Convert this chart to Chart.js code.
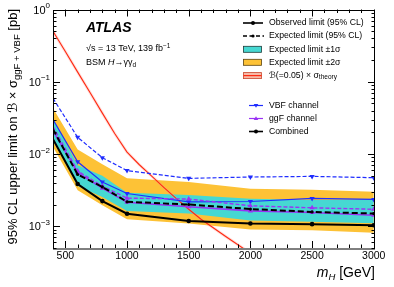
<!DOCTYPE html>
<html>
<head>
<meta charset="utf-8">
<script src="https://cdn.jsdelivr.net/npm/chart.js@4.4.1/dist/chart.umd.min.js"></script>
<style>
  html, body { margin: 0; padding: 0; background: #fff; }
</style>
</head>
<body>
<canvas id="limits" width="394" height="287"></canvas>
<script>
// mass points of the limit scan [GeV]
const masses = [400, 600, 800, 1000, 1500, 2000, 2500, 3000];

// combined limits [pb]
const observed = [0.016, 0.00385, 0.00223, 0.00149, 0.00118, 0.00109, 0.00107, 0.00103];
const expected = [0.022, 0.0052, 0.0035, 0.00218, 0.0020, 0.00173, 0.00158, 0.0015];
const oneSigUp = [0.031, 0.0070, 0.0050, 0.0029, 0.0027, 0.0024, 0.0023, 0.00235];
const oneSigDown = [0.0155, 0.0036, 0.00255, 0.00162, 0.0015, 0.0012, 0.00115, 0.0011];
const twoSigUp = [0.043, 0.0115, 0.0072, 0.0046, 0.0041, 0.0033, 0.0032, 0.0030];
const twoSigDown = [0.0125, 0.00315, 0.00196, 0.00125, 0.00109, 0.0009, 0.00088, 0.00081];

// single channels [pb]
const vbfObserved = [0.030, 0.0078, 0.0041, 0.00284, 0.00218, 0.0022, 0.00243, 0.00235];
const vbfExpected = [0.059, 0.017, 0.0089, 0.0059, 0.0046, 0.0048, 0.0049, 0.0047];
const ggfObserved = [0.021, 0.0055, 0.00337, 0.00215, 0.00186, 0.00163, 0.00155, 0.00142];
const ggfExpected = [0.024, 0.0058, 0.0036, 0.00245, 0.00238, 0.00192, 0.0018, 0.00172];

// B(=0.05) x sigma_theory
const theoryMasses = [400, 500, 600, 700, 800, 900, 1000, 1100, 1200, 1300, 1400, 1500, 1600, 1800, 2000, 2200];
const theoryXsec = [0.50, 0.262, 0.136, 0.0709, 0.0368, 0.0192, 0.0106, 0.0071, 0.00494, 0.00343,
                    0.00241, 0.00172, 0.00125, 0.00072, 0.000424, 0.00026];

const xTickVals = [500, 1000, 1500, 2000, 2500, 3000];
const yTickVals = [0.001, 0.01, 0.1, 1];

const FONT = '"Liberation Sans", Arial, "DejaVu Sans", sans-serif';
const SCRIPT = '"DejaVu Sans", sans-serif';
const YELLOW = '#fdc236';
const CYAN = '#46d8d2';
const BLUE = '#1f2dff';
const PURPLE = '#9a32f5';
const RED = '#ff2a12';

const pts = (xs, ys) => xs.map((x, i) => ({ x, y: ys[i] }));
const edgeHidden = r => ctx => (ctx.raw && ctx.raw.x <= 400 ? 0 : r);

// draw a row of text pieces (font / vertical shift per piece)
function drawRuns(ctx, x, y, runs, align) {
  let total = 0;
  runs.forEach(r => { ctx.font = r.font; total += ctx.measureText(r.t).width; });
  let cx = align === 'right' ? x - total : x;
  ctx.textAlign = 'left';
  runs.forEach(r => {
    ctx.font = r.font;
    ctx.fillText(r.t, cx, y + (r.dy || 0));
    cx += ctx.measureText(r.t).width;
  });
  return total;
}

function triangle(ctx, x, y, s, down) {
  ctx.beginPath();
  if (down) {
    ctx.moveTo(x - s, y - s * 0.6); ctx.lineTo(x + s, y - s * 0.6); ctx.lineTo(x, y + s);
  } else {
    ctx.moveTo(x - s, y + s * 0.6); ctx.lineTo(x + s, y + s * 0.6); ctx.lineTo(x, y - s);
  }
  ctx.closePath();
  ctx.fill();
}

const decorations = {
  id: 'decorations',
  afterDraw(chart) {
    const { ctx, chartArea: a, scales } = chart;
    const xs = scales.x, ys = scales.y;
    ctx.save();
    ctx.fillStyle = '#000';
    ctx.strokeStyle = '#000';
    ctx.lineWidth = 1;

    // frame
    ctx.strokeRect(Math.round(a.left) + 0.5, Math.round(a.top) + 0.5,
      Math.round(a.right - a.left) - 1, Math.round(a.bottom - a.top) - 0.5);

    // inward ticks, x
    ctx.beginPath();
    for (let m = 500; m < 3010; m += 100) {
      const px = Math.round(xs.getPixelForValue(m)) + 0.5;
      const len = m % 500 === 0 ? 7 : 3.5;
      ctx.moveTo(px, a.bottom); ctx.lineTo(px, a.bottom - len);
      ctx.moveTo(px, a.top); ctx.lineTo(px, a.top + len);
    }
    // inward ticks, y (log)
    for (let e = -4; e <= 0; e++) {
      for (let k = 1; k <= 9; k++) {
        const v = k * Math.pow(10, e);
        if (v < 5e-4 || v > 1) continue;
        const py = Math.round(ys.getPixelForValue(v)) + 0.5;
        const len = k === 1 ? 7 : 3.5;
        ctx.moveTo(a.left, py); ctx.lineTo(a.left + len, py);
        ctx.moveTo(a.right, py); ctx.lineTo(a.right - len, py);
      }
    }
    ctx.stroke();

    // y tick labels 10^n
    ctx.textBaseline = 'alphabetic';
    yTickVals.forEach(v => {
      const py = ys.getPixelForValue(v);
      const n = Math.round(Math.log10(v));
      const sup = n < 0 ? '\u2212' + (-n) : String(n);
      drawRuns(ctx, 50, py + 4, [
        { t: '10', font: '11px ' + FONT },
        { t: sup, font: '8px ' + FONT, dy: -5.5 }
      ], 'right');
    });

    // x title
    drawRuns(ctx, a.right, 277, [
      { t: 'm', font: 'italic 14px ' + FONT },
      { t: 'H', font: 'italic 9.5px ' + FONT, dy: 3 },
      { t: ' [GeV]', font: '14px ' + FONT }
    ], 'right');

    // y title (rotated, ends at the top of the axis)
    ctx.save();
    ctx.translate(17, 9);
    ctx.rotate(-Math.PI / 2);
    drawRuns(ctx, 0, 0, [
      { t: '95% CL upper limit on ', font: '13px ' + FONT },
      { t: '\u212C', font: '13px ' + SCRIPT },
      { t: ' \u00D7 \u03C3', font: '13px ' + FONT },
      { t: 'ggF + VBF', font: '9.5px ' + FONT, dy: 3 },
      { t: ' [pb]', font: '13px ' + FONT }
    ], 'right');
    ctx.restore();

    // ATLAS label
    ctx.font = 'italic bold 14px ' + FONT;
    ctx.fillText('ATLAS', 86, 32);
    drawRuns(ctx, 86, 51, [
      { t: '\u221As = 13 TeV, 139 fb', font: '9px ' + FONT },
      { t: '\u22121', font: '6.5px ' + FONT, dy: -3.5 }
    ], 'left');
    drawRuns(ctx, 86, 65, [
      { t: 'BSM ', font: '9px ' + FONT },
      { t: 'H', font: 'italic 9px ' + FONT },
      { t: '\u2192\u03B3\u03B3', font: '9px ' + FONT },
      { t: 'd', font: '6.5px ' + FONT, dy: 2 }
    ], 'left');

    // legend
    const tx = 269;
    const font = '8.7px ' + FONT;
    const rows = [23, 36, 49.3, 62.3, 75.6];
    // observed
    ctx.lineWidth = 1.6;
    ctx.beginPath(); ctx.moveTo(243, rows[0]); ctx.lineTo(263, rows[0]); ctx.stroke();
    ctx.beginPath(); ctx.arc(253, rows[0], 2, 0, Math.PI * 2); ctx.fill();
    // expected
    ctx.setLineDash([4, 2.5]);
    ctx.beginPath(); ctx.moveTo(243, rows[1]); ctx.lineTo(264, rows[1]); ctx.stroke();
    ctx.setLineDash([]);
    ctx.beginPath(); ctx.arc(253, rows[1], 1.6, 0, Math.PI * 2); ctx.fill();
    // bands
    ctx.lineWidth = 0.8;
    ctx.fillStyle = CYAN; ctx.fillRect(243.5, rows[2] - 3, 18, 6);
    ctx.strokeStyle = '#1c3b3a'; ctx.strokeRect(243.5, rows[2] - 3, 18, 6);
    ctx.fillStyle = YELLOW; ctx.fillRect(243.5, rows[3] - 3, 18, 6);
    ctx.strokeStyle = '#5a4410'; ctx.strokeRect(243.5, rows[3] - 3, 18, 6);
    ctx.fillStyle = '#f7b9a6'; ctx.fillRect(243.5, rows[4] - 3, 18, 6);
    ctx.strokeStyle = '#c9462c'; ctx.strokeRect(243.5, rows[4] - 3, 18, 6);
    ctx.strokeStyle = RED; ctx.lineWidth = 1.2;
    ctx.beginPath(); ctx.moveTo(243.5, rows[4]); ctx.lineTo(261.5, rows[4]); ctx.stroke();

    ctx.fillStyle = '#000';
    ctx.textBaseline = 'middle';
    ctx.font = font;
    ctx.fillText('Observed limit (95% CL)', tx, rows[0]);
    ctx.fillText('Expected limit (95% CL)', tx, rows[1]);
    ctx.fillText('Expected limit \u00B11\u03C3', tx, rows[2]);
    ctx.fillText('Expected limit \u00B12\u03C3', tx, rows[3]);
    drawRuns(ctx, tx, rows[4], [
      { t: '\u212C', font: '8.7px ' + SCRIPT },
      { t: '(=0.05) \u00D7 \u03C3', font: font },
      { t: 'theory', font: '6.5px ' + FONT, dy: 2 }
    ], 'left');

    const rows2 = [105.5, 118.5, 131.5];
    ctx.lineWidth = 1.2;
    ctx.strokeStyle = BLUE; ctx.fillStyle = BLUE;
    ctx.beginPath(); ctx.moveTo(249, rows2[0]); ctx.lineTo(263, rows2[0]); ctx.stroke();
    triangle(ctx, 256, rows2[0], 2.3, true);
    ctx.strokeStyle = PURPLE; ctx.fillStyle = PURPLE;
    ctx.beginPath(); ctx.moveTo(249, rows2[1]); ctx.lineTo(263, rows2[1]); ctx.stroke();
    triangle(ctx, 256, rows2[1], 2.3, false);
    ctx.strokeStyle = '#000'; ctx.fillStyle = '#000'; ctx.lineWidth = 1.6;
    ctx.beginPath(); ctx.moveTo(249, rows2[2]); ctx.lineTo(263, rows2[2]); ctx.stroke();
    ctx.beginPath(); ctx.arc(256, rows2[2], 2, 0, Math.PI * 2); ctx.fill();
    ctx.font = font;
    ctx.fillText('VBF channel', tx, rows2[0]);
    ctx.fillText('ggF channel', tx, rows2[1]);
    ctx.fillText('Combined', tx, rows2[2]);

    ctx.restore();
  }
};

const line = (data, color, width, dash, pointStyle, radius, order, extra) => Object.assign({
  data,
  borderColor: color,
  backgroundColor: color,
  borderWidth: width,
  borderDash: dash,
  pointStyle,
  pointRadius: edgeHidden(radius),
  pointBorderWidth: 0,
  fill: false,
  tension: 0,
  order
}, extra || {});

const chart = new Chart(document.getElementById('limits'), {
  type: 'line',
  data: {
    datasets: [
      { data: pts(masses, twoSigUp), fill: '+1', backgroundColor: YELLOW, borderWidth: 0, pointRadius: 0, order: 20 },
      { data: pts(masses, twoSigDown), fill: false, borderWidth: 0, pointRadius: 0, order: 19 },
      { data: pts(masses, oneSigUp), fill: '+1', backgroundColor: CYAN, borderWidth: 0, pointRadius: 0, order: 18 },
      { data: pts(masses, oneSigDown), fill: false, borderWidth: 0, pointRadius: 0, order: 17 },
      { data: pts(theoryMasses, theoryXsec), borderColor: 'rgba(255,150,140,0.3)', borderWidth: 3, pointRadius: 0, fill: false, order: 16 },
      { data: pts(theoryMasses, theoryXsec), borderColor: RED, borderWidth: 1.1, pointRadius: 0, fill: false, order: 15 },
      line(pts(masses, vbfExpected), BLUE, 1.2, [4, 2], 'triangle', 3, 10, { rotation: 180 }),
      line(pts(masses, vbfObserved), BLUE, 1.2, [], 'triangle', 3, 9, { rotation: 180 }),
      line(pts(masses, ggfExpected), PURPLE, 1.4, [4, 2], 'triangle', 3, 8),
      line(pts(masses, ggfObserved), PURPLE, 1.6, [], 'triangle', 3, 7),
      line(pts(masses, expected), '#000', 2, [6, 3], 'circle', 1.6, 6),
      line(pts(masses, observed), '#000', 2, [], 'circle', 2.3, 5)
    ]
  },
  options: {
    responsive: false,
    animation: false,
    devicePixelRatio: 1,
    layout: { padding: { left: 0, right: 19, top: 9.5, bottom: 0 } },
    plugins: { legend: { display: false }, tooltip: { enabled: false } },
    scales: {
      x: {
        type: 'linear',
        min: 400,
        max: 3010,
        grid: { display: false, drawTicks: false },
        border: { display: false },
        afterBuildTicks: s => { s.ticks = xTickVals.map(v => ({ value: v })); },
        afterFit: s => { s.height = 39; },
        ticks: {
          color: '#000', padding: 2, maxRotation: 0,
          font: { family: FONT, size: 10.5 },
          callback: v => String(v)
        }
      },
      y: {
        type: 'logarithmic',
        min: 5e-4,
        max: 1,
        grid: { display: false, drawTicks: false },
        border: { display: false },
        ticks: { display: false },
        afterFit: s => { s.width = 53; }
      }
    }
  },
  plugins: [decorations]
});
</script>
</body>
</html>
